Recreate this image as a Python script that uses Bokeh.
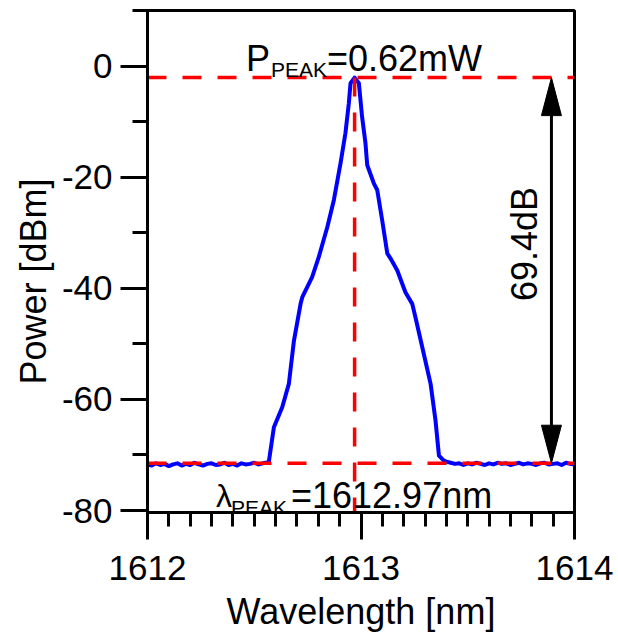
import math
from bokeh.plotting import figure
from bokeh.models import Range1d, FixedTicker, Label
from bokeh.embed import file_html
from bokeh.resources import INLINE

# ---------------- data ----------------
floor_left_wl = [1612.00, 1612.02, 1612.04, 1612.06, 1612.08, 1612.10, 1612.12, 1612.14,
                 1612.16, 1612.18, 1612.20, 1612.22, 1612.24, 1612.26, 1612.28, 1612.30,
                 1612.32, 1612.34, 1612.36, 1612.38, 1612.40, 1612.42, 1612.44, 1612.46,
                 1612.48, 1612.50, 1612.52, 1612.54]
floor_left_dbm = [-71.7, -71.9, -71.5, -71.8, -71.6, -72.0, -71.7, -71.5, -71.9, -71.6,
                  -71.8, -71.4, -71.7, -71.9, -71.6, -71.5, -71.8, -71.7, -71.4, -71.8,
                  -71.6, -71.9, -71.5, -71.7, -71.6, -71.4, -71.7, -71.5]
peak_wl = [1612.568, 1612.592, 1612.631, 1612.662, 1612.686, 1612.717, 1612.725, 1612.771,
           1612.802, 1612.842, 1612.873, 1612.904, 1612.927, 1612.943, 1612.951, 1612.970,
           1612.990, 1613.005, 1613.021, 1613.029, 1613.060, 1613.076, 1613.099, 1613.123,
           1613.138, 1613.170, 1613.208, 1613.240, 1613.255, 1613.287, 1613.326, 1613.349,
           1613.365, 1613.388]
peak_dbm = [-71.3, -65.0, -61.4, -57.2, -49.4, -42.8, -41.6, -38.0,
            -34.4, -29.0, -24.1, -17.5, -12.1, -6.7, -3.1, -2.08,
            -3.1, -9.1, -13.9, -17.8, -21.1, -22.3, -27.7, -33.7,
            -34.6, -36.8, -40.7, -42.8, -45.2, -50.6, -57.2, -63.8,
            -70.1, -71.0]
floor_right_wl = [1613.40, 1613.42, 1613.44, 1613.46, 1613.48, 1613.50, 1613.52, 1613.54,
                  1613.56, 1613.58, 1613.60, 1613.62, 1613.64, 1613.66, 1613.68, 1613.70,
                  1613.72, 1613.74, 1613.76, 1613.78, 1613.80, 1613.82, 1613.84, 1613.86,
                  1613.88, 1613.90, 1613.92, 1613.94, 1613.96, 1613.98, 1614.00]
floor_right_dbm = [-71.2, -71.4, -71.6, -71.5, -71.8, -71.5, -71.7, -71.4, -71.6, -71.8,
                   -71.5, -71.7, -71.4, -71.6, -71.5, -71.8, -71.6, -71.4, -71.7, -71.5,
                   -71.6, -71.8, -71.5, -71.4, -71.7, -71.6, -71.5, -71.8, -71.4, -71.6,
                   -71.7]

peak_wavelength = 1612.97
peak_power_dbm = -2.08
floor_power_dbm = -71.48
arrow_wl = 1613.892

x_ticks = [1612, 1613, 1614]
y_ticks = [-80, -60, -40, -20, 0]
y_tick_labels = ["-80", "-60", "-40", "-20", "0"]
y_minor = [-70, -50, -30, -10, 10]

# ---------------- layout ----------------
W, H = 618, 634
FL, FR, FT, FB = 147, 574, 10, 512
XR = (1612.0, 1614.0)
YR = (-80.35, 10.0)


def px_x(px):
    return XR[0] + (px - FL) * (XR[1] - XR[0]) / (FR - FL)


def px_y(py):
    return YR[1] - (py - FT) * (YR[1] - YR[0]) / (FB - FT)


FONT = "Liberation Sans"

p = figure(width=W, height=H, output_backend="svg", toolbar_location=None,
           x_range=Range1d(*XR), y_range=Range1d(*YR),
           min_border_left=FL, min_border_right=W - FR,
           min_border_top=FT, min_border_bottom=H - FB)
p.background_fill_color = "white"
p.border_fill_color = "white"
p.outline_line_color = "black"
p.outline_line_width = 3
p.outline_line_alpha = 1.0
p.xgrid.visible = False
p.ygrid.visible = False

minor_x = [round(1612 + 0.1 * i, 1) for i in range(21)]
p.xaxis.ticker = FixedTicker(ticks=x_ticks, minor_ticks=minor_x)
p.yaxis.ticker = FixedTicker(ticks=y_ticks, minor_ticks=y_minor)
p.yaxis.major_label_overrides = dict(zip(y_ticks, y_tick_labels))
for ax in (p.xaxis, p.yaxis):
    ax.axis_line_width = 3
    ax.axis_line_color = "black"
    ax.major_tick_line_width = 3
    ax.minor_tick_line_width = 3
    ax.major_tick_line_color = "black"
    ax.minor_tick_line_color = "black"
    ax.major_tick_in = 0
    ax.minor_tick_in = 0
    ax.major_tick_out = 27
    ax.major_label_text_font = FONT
    ax.major_label_text_font_size = "35px"
    ax.major_label_text_color = "black"
    ax.axis_label_text_font = FONT
    ax.axis_label_text_font_size = "36px"
    ax.axis_label_text_font_style = "normal"
    ax.axis_label_text_color = "black"
p.xaxis.minor_tick_out = 14
p.yaxis.minor_tick_out = 15
p.xaxis.major_label_standoff = 16
p.yaxis.major_label_standoff = 8
p.xaxis.axis_label = "Wavelength [nm]"
p.xaxis.axis_label_standoff = 8
p.yaxis.axis_label = "Power [dBm]" + "\u00a0" * 4
p.yaxis.axis_label_standoff = 5

# spectrum
wl = floor_left_wl + peak_wl + floor_right_wl
dbm = floor_left_dbm + peak_dbm + floor_right_dbm
p.line(wl, dbm, line_color="#0000FF", line_width=4, line_join="round")

# red dashed guides
dash = "19 16"
p.line([XR[0], XR[1]], [peak_power_dbm, peak_power_dbm], line_color="#FF0000",
       line_width=3.5, line_dash=dash)
p.line([XR[0], XR[1]], [floor_power_dbm, floor_power_dbm], line_color="#FF0000",
       line_width=3.5, line_dash=dash)
p.line([peak_wavelength, peak_wavelength], [peak_power_dbm, YR[0]], line_color="#FF0000",
       line_width=3.5, line_dash=dash)

# double arrow
head_len = 38 * (YR[1] - YR[0]) / (FB - FT)
head_hw = 10 * (XR[1] - XR[0]) / (FR - FL)
p.segment(x0=[arrow_wl], y0=[peak_power_dbm - head_len + 1], x1=[arrow_wl],
          y1=[floor_power_dbm + head_len - 1], line_color="black", line_width=3)
p.patches(
    xs=[[arrow_wl, arrow_wl - head_hw, arrow_wl + head_hw],
        [arrow_wl, arrow_wl - head_hw, arrow_wl + head_hw]],
    ys=[[peak_power_dbm, peak_power_dbm - head_len, peak_power_dbm - head_len],
        [floor_power_dbm, floor_power_dbm + head_len, floor_power_dbm + head_len]],
    fill_color="black", line_color="black", line_width=1)


def lab(px, py, text, size, angle=0.0, align="left"):
    p.add_layout(Label(x=px_x(px), y=px_y(py), text=text, text_font=FONT,
                       text_font_size=f"{size}px", text_color="black",
                       text_align=align, text_baseline="alphabetic", angle=angle))


# annotations
lab(245.5, 58, "P", 36)
lab(270.5, 69, "PEAK", 21)
lab(326.5, 58, "=0.62mW", 36)
lab(215.5, 495, "\u03bb", 32)
lab(230.5, 507, "PEAK", 21)
lab(290.5, 495, "=1612.97nm", 36)
lab(524, 243.5, "69.4dB", 36, angle=math.pi / 2, align="center")

open("out.html", "w").write(file_html(p, INLINE))
